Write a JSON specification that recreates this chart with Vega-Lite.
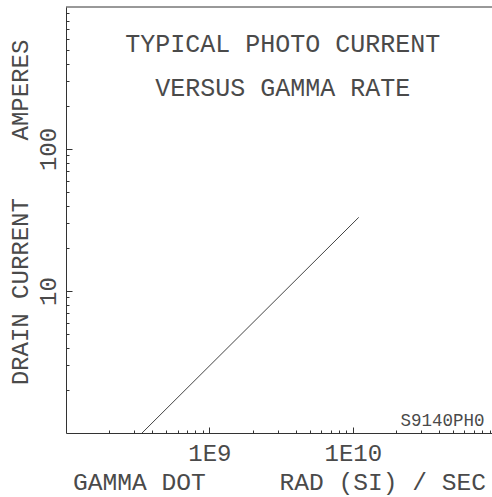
{
  "$schema": "https://vega.github.io/schema/vega-lite/v6.json",
  "autosize": {"type": "none"},
  "padding": {"left": 66, "top": 7, "right": 0, "bottom": 64},
  "width": 426,
  "height": 426,
  "background": "white",
  "config": {
    "view": {"stroke": null},
    "font": "Liberation Mono",
    "axis": {
      "labelFont": "Liberation Mono",
      "titleFont": "Liberation Mono",
      "labelFontSize": 24,
      "titleFontSize": 24.6,
      "titleFontWeight": "normal",
      "labelColor": "#4a4a4a",
      "titleColor": "#4a4a4a",
      "domainColor": "#333",
      "tickColor": "#333",
      "grid": false
    }
  },
  "datasets": {
    "curve": [
      {"gamma": 3.39e8, "current": 1},
      {"gamma": 1.1e10, "current": 33}
    ]
  },
  "layer": [
    {
      "data": {"name": "curve"},
      "mark": {"type": "line", "color": "#444", "strokeWidth": 1, "clip": true},
      "encoding": {
        "x": {
          "field": "gamma", "type": "quantitative",
          "scale": {"type": "log", "domain": [1e8, 9.35e10], "nice": false},
          "axis": {
            "values": [2e8,3e8,4e8,5e8,6e8,7e8,8e8,9e8,1e9,2e9,3e9,4e9,5e9,6e9,7e9,8e9,9e9,1e10,2e10,3e10,4e10,5e10,6e10,7e10,8e10,9e10],
            "labelExpr": "abs(datum.value - 1e9) < 1 ? '1E9' : (abs(datum.value - 1e10) < 1 ? '1E10' : '')",
            "tickSize": {"condition": {"test": "abs(datum.value - 1e9) < 1 || abs(datum.value - 1e10) < 1", "value": -6}, "value": -3},
            "labelPadding": 14,
            "labelFlush": false,
            "labelOverlap": false,
            "title": "GAMMA DOT\u00a0\u00a0\u00a0\u00a0\u00a0RAD (SI) / SEC",
            "titlePadding": 2
          }
        },
        "y": {
          "field": "current", "type": "quantitative",
          "scale": {"type": "log", "domain": [1, 1000], "nice": false},
          "axis": {
            "values": [2,3,4,5,6,7,8,9,10,20,30,40,50,60,70,80,90,100,200,300,400,500,600,700,800,900],
            "labelExpr": "abs(datum.value - 10) < 0.01 ? '10' : (abs(datum.value - 100) < 0.01 ? '100' : '')",
            "tickSize": {"condition": {"test": "abs(datum.value - 10) < 0.01 || abs(datum.value - 100) < 0.01", "value": -6}, "value": -3},
            "labelAngle": -90,
            "labelPadding": 12,
            "labelFlush": false,
            "labelOverlap": false,
            "title": "DRAIN CURRENT\u00a0\u00a0\u00a0\u00a0AMPERES",
            "titleFontSize": 24,
            "titlePadding": 1,
            "titleY": 205
          }
        }
      }
    },
    {
      "data": {"values": [{"border": "top"}]},
      "mark": {"type": "rule", "color": "#333", "strokeWidth": 1},
      "encoding": {"y": {"datum": 1000}}
    },
    {
      "data": {"values": [{"label": "TYPICAL PHOTO CURRENT"}]},
      "mark": {"type": "text", "font": "Liberation Mono", "fontSize": 25, "color": "#4a4a4a", "align": "center", "baseline": "middle"},
      "encoding": {
        "x": {"datum": 3.25e9},
        "y": {"datum": 545},
        "text": {"field": "label"}
      }
    },
    {
      "data": {"values": [{"label": "VERSUS GAMMA RATE"}]},
      "mark": {"type": "text", "font": "Liberation Mono", "fontSize": 25, "color": "#4a4a4a", "align": "center", "baseline": "middle"},
      "encoding": {
        "x": {"datum": 3.25e9},
        "y": {"datum": 271},
        "text": {"field": "label"}
      }
    },
    {
      "data": {"values": [{"label": "S9140PH0"}]},
      "mark": {"type": "text", "font": "Liberation Mono", "fontSize": 17.5, "color": "#4a4a4a", "align": "right", "baseline": "alphabetic"},
      "encoding": {
        "x": {"datum": 8.3e10},
        "y": {"datum": 1.12},
        "text": {"field": "label"}
      }
    }
  ]
}
